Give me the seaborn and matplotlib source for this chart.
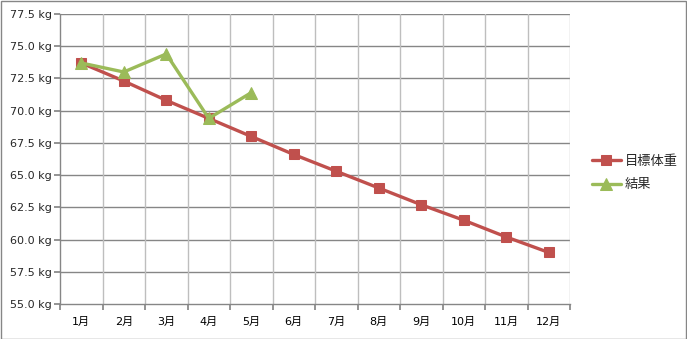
import matplotlib
matplotlib.use("Agg")
import matplotlib.pyplot as plt
import seaborn as sns
import pandas as pd
from matplotlib.patches import Rectangle
from matplotlib.ticker import FixedLocator, FuncFormatter

months = ["1月", "2月", "3月", "4月", "5月", "6月", "7月", "8月", "9月", "10月", "11月", "12月"]
target = [73.7, 72.3, 70.8, 69.4, 68.0, 66.6, 65.3, 64.0, 62.7, 61.5, 60.2, 59.0]
result = [73.7, 73.0, 74.4, 69.4, 71.4]
series_names = ["目標体重", "結果"]

sns.set_theme(style="white")
plt.rcParams['font.family'] = ['DejaVu Sans', 'Noto Sans CJK JP']

df_t = pd.DataFrame({"x": range(len(target)), "y": target})
df_r = pd.DataFrame({"x": range(len(result)), "y": result})

fig = plt.figure(figsize=(6.87, 3.39), dpi=100)
ax = fig.add_axes([60/687, 1-304/339, 510/687, 290/339])

sns.lineplot(data=df_t, x="x", y="y", ax=ax, color="#C0504D", lw=2.4,
             marker="s", markersize=7, markeredgecolor="#C0504D", label=series_names[0])
sns.lineplot(data=df_r, x="x", y="y", ax=ax, color="#9BBB59", lw=2.4,
             marker="^", markersize=8, markeredgecolor="#9BBB59", label=series_names[1])

ax.set_xlim(-0.5, len(months) - 0.5)
ax.set_ylim(55, 77.5)
ax.set_xlabel("")
ax.set_ylabel("")

ax.xaxis.set_major_locator(FixedLocator([i - 0.5 for i in range(len(months) + 1)]))
ax.xaxis.set_minor_locator(FixedLocator(list(range(len(months)))))
ax.xaxis.set_major_formatter(FuncFormatter(lambda v, p: ""))
ax.xaxis.set_minor_formatter(FuncFormatter(lambda v, p: months[int(round(v))] if 0 <= round(v) < len(months) else ""))
ax.tick_params(axis="x", which="major", direction="out", length=4, color="#868686", bottom=True)
ax.tick_params(axis="x", which="minor", length=0, labelsize=8, pad=9, colors="black", bottom=True)

yt = [55 + 2.5 * i for i in range(10)]
ax.set_yticks(yt)
ax.set_yticklabels([f"{v:.1f} kg" for v in yt], fontsize=8)
ax.tick_params(axis="y", direction="out", length=4, color="#868686", left=True, pad=2)

ax.grid(False)
for v in yt[1:]:
    ax.axhline(v, color="#868686", lw=1, zorder=0)
for i in range(1, len(months) + 1):
    ax.axvline(i - 0.5, color="#BEBEBE", lw=1, zorder=0)

ax.spines["top"].set_visible(False)
ax.spines["right"].set_visible(False)
ax.spines["left"].set_color("#868686")
ax.spines["bottom"].set_color("#868686")
ax.spines["left"].set_linewidth(1)
ax.spines["bottom"].set_linewidth(1)

ax.get_legend().remove()
h, l = ax.get_legend_handles_labels()
fig.legend(h, l, loc="upper left", bbox_to_anchor=(580/687, 1-143/339), frameon=False,
           fontsize=9.5, handlelength=2.2, handletextpad=0.3, labelspacing=0.8)

fig.patches.append(Rectangle((0.5/687, 0.5/339), 1 - 1.5/687, 1 - 1.5/339, transform=fig.transFigure,
                             fill=False, edgecolor="#868686", lw=1))

fig.savefig("out.png", dpi=100)
